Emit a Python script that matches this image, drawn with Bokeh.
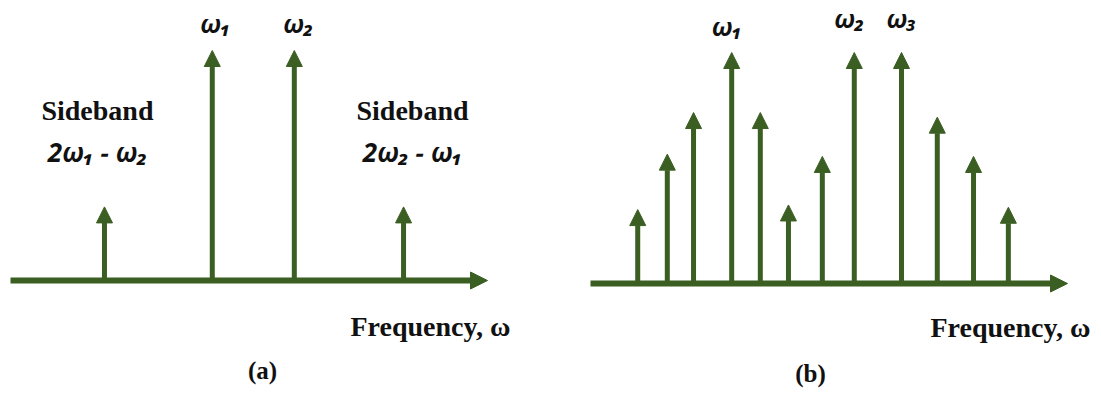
from bokeh.plotting import figure
from bokeh.layouts import row
from bokeh.models import Arrow, NormalHead, ColumnDataSource, Label, Range1d
from bokeh.embed import file_html
from bokeh.resources import INLINE

# ---- data (frequency in arbitrary units 0..10 along the axis, relative amplitude) ----
left_freq = [1.97, 4.23, 5.95, 8.24]
left_amp = [0.32, 1.0, 1.0, 0.32]
left_peak_idx = [1, 2]
left_peak_names = ["ω₁", "ω₂"]
sideband_idx = [0, 3]
sideband_titles = ["Sideband", "Sideband"]
sideband_formulas = ["2ω₁ − ω₂", "2ω₂ − ω₁"]

right_freq = [0.99, 1.61, 2.16, 2.96, 3.56, 4.15, 4.86, 5.53, 6.52, 7.27, 8.03, 8.76]
right_amp = [0.32, 0.56, 0.74, 1.0, 0.74, 0.34, 0.55, 1.0, 1.0, 0.72, 0.55, 0.33]
right_peak_idx = [3, 7, 8]
right_peak_names = ["ω₁", "ω₂", "ω₃"]

axis_title = "Frequency, ω"
panel_tags = ["(a)", "(b)"]
axis_end = 10.0

GREEN = "#3b5e23"
SERIF = "Liberation Serif"
SANS = "Noto Sans"
INK = "#111111"


def make_panel(width, xr, yr, freq, amp):
    p = figure(width=width, height=394, x_range=Range1d(*xr), y_range=Range1d(*yr),
               output_backend="svg", toolbar_location=None, min_border=0)
    p.axis.visible = False
    p.grid.visible = False
    p.outline_line_color = None
    p.background_fill_color = "white"
    p.border_fill_color = "white"
    # horizontal frequency axis
    p.add_layout(Arrow(x_start=0, y_start=0, x_end=axis_end, y_end=0,
                       line_color=GREEN, line_width=6,
                       end=NormalHead(size=17, fill_color=GREEN, line_color=GREEN, line_width=1)))
    src = ColumnDataSource(dict(x=freq, y0=[0] * len(freq), amp=amp))
    p.add_layout(Arrow(x_start="x", y_start="y0", x_end="x", y_end="amp", source=src,
                       line_color=GREEN, line_width=5,
                       end=NormalHead(size=16, fill_color=GREEN, line_color=GREEN, line_width=1)))
    return p


def sans_label(p, x, y, text, dx, dy, size="25px"):
    p.add_layout(Label(x=x, y=y, text=text, x_offset=dx, y_offset=dy,
                       text_align="center", text_baseline="alphabetic",
                       text_font=SANS, text_font_style="bold italic", text_font_size=size,
                       text_color=INK))


def serif_label(p, x, y, text, dx, dy, align="center", size="28px", units="data"):
    p.add_layout(Label(x=x, y=y, text=text, x_offset=dx, y_offset=dy,
                       x_units=units, y_units=units,
                       text_align=align, text_baseline="alphabetic",
                       text_font=SERIF, text_font_style="bold", text_font_size=size,
                       text_color=INK))


# left panel
p1 = make_panel(550, (-10 / 47.7, 540 / 47.7), (-114 / 230, 280 / 230), left_freq, left_amp)
for i, name, dx in zip(left_peak_idx, left_peak_names, [3, 4]):
    sans_label(p1, left_freq[i], left_amp[i], name, dx, 28)
for i, t, f, dx in zip(sideband_idx, sideband_titles, sideband_formulas, [-7, 9]):
    serif_label(p1, left_freq[i], left_amp[i], t, dx, 96)
    sans_label(p1, left_freq[i], left_amp[i], f, dx, 55, size="26px")
serif_label(p1, axis_end, 0, axis_title, -137, -46, align="left")
serif_label(p1, 262, 24, panel_tags[0], 0, 0, size="25px", units="screen")

# right panel
p2 = make_panel(551, (-40 / 47.7, 511 / 47.7), (-111 / 231, 283 / 231), right_freq, right_amp)
for i, name, dx, dy in zip(right_peak_idx, right_peak_names, [-5, -5, 0], [27, 35, 35]):
    sans_label(p2, right_freq[i], right_amp[i], name, dx, dy)
serif_label(p2, axis_end, 0, axis_title, -137, -44, align="left")
serif_label(p2, 260, 21, panel_tags[1], 0, 0, size="25px", units="screen")

layout = row(p1, p2)
open("out.html", "w").write(file_html(layout, INLINE))
